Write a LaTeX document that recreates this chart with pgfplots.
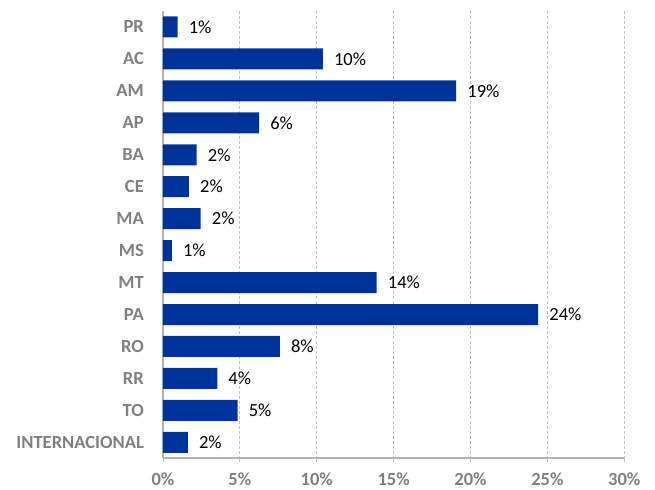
\documentclass[border=0pt]{standalone}
\usepackage{fontspec}
\setmainfont{Carlito}
\usepackage{pgfplots}
\pgfplotsset{compat=1.18}
\definecolor{barblue}{HTML}{003399}
\definecolor{lblgray}{HTML}{7F7F7F}
\definecolor{gridgray}{HTML}{BFBFBF}
\definecolor{axgray}{HTML}{B3B3B3}
\begin{document}
\begin{tikzpicture}
\begin{axis}[
 scale only axis, width=461.3bp, height=447.3bp,
 xbar, bar width=21bp,
 xmin=0, xmax=30, ymin=-0.5, ymax=13.5, y dir=reverse,
 xtick={0,5,...,30},
 ytick={0,...,13},
 yticklabels={PR,AC,AM,AP,BA,CE,MA,MS,MT,PA,RO,RR,TO,INTERNACIONAL},
 axis x line*=bottom, axis y line*=left,
 axis line style={axgray, line width=2bp, -},
 xmajorgrids, grid style={gridgray, line width=0.8bp, dash pattern=on 3bp off 2bp},
 tick align=outside, major tick length=4bp,
 x tick style={gridgray, line width=0.8bp},
 y tick style={draw=none},
 /pgf/number format/assume math mode=true,
 xticklabel={\pgfmathprintnumber{\tick}\%},
 tick label style={font=\fontsize{18.5bp}{22bp}\selectfont\bfseries, text=lblgray},
 x tick label style={anchor=north, inner sep=0pt, yshift=-10bp},
 y tick label style={anchor=east, inner sep=0pt, xshift=-15bp},
 nodes near coords={\pgfmathprintnumber[fixed,precision=0]{\pgfplotspointmeta}\%},
 nodes near coords style={font=\fontsize{18.5bp}{22bp}\selectfont, text=black, anchor=west, inner sep=0pt, xshift=11bp},
 point meta=x,
 clip=false,
]
\addplot[fill=barblue, draw=none] coordinates {
(0.95,0) (10.4,1) (19.07,2) (6.25,3) (2.19,4) (1.69,5) (2.45,6)
(0.58,7) (13.9,8) (24.4,9) (7.6,10) (3.53,11) (4.85,12) (1.62,13)};
\coordinate (bl) at (axis cs:0,13.5);
\coordinate (tr) at (axis cs:30,-0.5);
\end{axis}
\pgfresetboundingbox
\path[use as bounding box] ([shift={(-163bp,-31.7bp)}]bl) rectangle ([shift={(30.7bp,11bp)}]tr);
\end{tikzpicture}
\end{document}
